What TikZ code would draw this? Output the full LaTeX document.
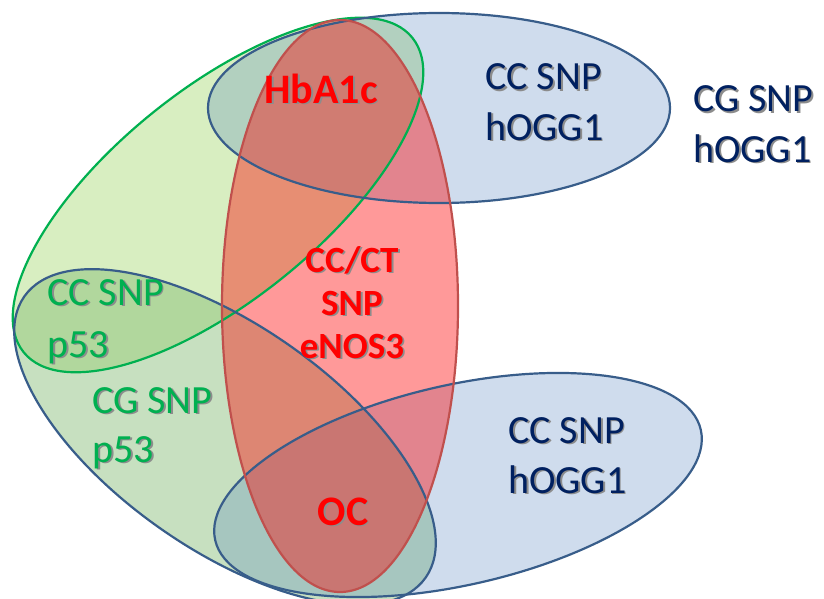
\documentclass[tikz,border=0pt]{standalone}
\usepackage{fontspec}
\setmainfont{Carlito}
\usetikzlibrary{shapes.geometric}
\definecolor{redline}{RGB}{192,80,77}
\definecolor{blueline}{RGB}{56,93,138}
\definecolor{greenline}{RGB}{0,176,80}
\definecolor{gfill}{RGB}{146,208,80}
\definecolor{bfill}{RGB}{79,129,189}
\definecolor{rfill}{RGB}{255,0,0}
\definecolor{navytext}{RGB}{0,32,96}
\definecolor{greentext}{RGB}{0,176,80}
\definecolor{redtext}{RGB}{255,0,0}
\definecolor{shadowgray}{RGB}{140,140,140}
\newcommand\shtext[1]{\rlap{\kern1.8pt\raisebox{-1.8pt}{\textcolor{shadowgray}{#1}}}#1}
\begin{document}
\begin{tikzpicture}[x=1pt,y=-1pt,
  set/.style={ellipse, inner sep=0pt, outer sep=0pt},
  redshape/.style={set, minimum width=236pt, minimum height=572pt},
  topblueshape/.style={set, minimum width=462pt, minimum height=190pt},
  greenshape/.style={set, minimum width=500pt, minimum height=210pt, rotate=39},
  bigblueshape/.style={set, minimum width=490pt, minimum height=224pt, rotate=-35},
  lowblueshape/.style={set, minimum width=498pt, minimum height=200pt, rotate=12.8},
  gfil/.style={fill=gfill, fill opacity=0.35},
  bfil/.style={fill=bfill, fill opacity=0.27},
  rfil/.style={fill=rfill, fill opacity=0.40},
  outl/.style={draw=#1, line width=2.2pt},
  lblw/.style={anchor=base west, inner sep=0pt, font=\fontsize{40}{48}\selectfont},
  boldlbl/.style={anchor=base, inner sep=0pt, font=\fontsize{42}{50}\selectfont\bfseries},
  enoslbl/.style={anchor=base, inner sep=0pt, font=\fontsize{37}{44}\selectfont\bfseries}
]
\useasboundingbox (0,0) rectangle (824,599);
\fill[white] (0,0) rectangle (824,599);

% fills
\node[greenshape, gfil] (green) at (218,195) {};
\node[bigblueshape, gfil] (bigblueg) at (225,437) {};
\node[bigblueshape, bfil, fill opacity=0.12] (bigblue) at (225,437) {};
\node[topblueshape, bfil] (topblue) at (439,108) {};
\node[lowblueshape, bfil] (lowblue) at (458,485) {};
\node[redshape, rfil] (red) at (340,306) {};

% outlines
\node[greenshape, outl=greenline] (greenO) at (green) {};
\node[bigblueshape, outl=blueline] (bigblueO) at (bigblue) {};
\node[topblueshape, outl=blueline] (topblueO) at (topblue) {};
\node[lowblueshape, outl=blueline] (lowblueO) at (lowblue) {};
\node[redshape, outl=redline] (redO) at (red) {};

% texts
\node[boldlbl, text=redtext] (hba) at (321,103) {\shtext{HbA1c}};
\node[enoslbl, text=redtext] (enosA) at (352,272) {\shtext{CC/CT}};
\node[enoslbl, text=redtext] (enosB) at (352,315) {\shtext{SNP}};
\node[enoslbl, text=redtext] (enosC) at (352,358) {\shtext{eNOS3}};
\node[boldlbl, text=redtext] (oc) at (343,525) {\shtext{OC}};
\node[lblw, text=navytext] (tA) at (485,90) {\shtext{CC SNP}};
\node[lblw, text=navytext] (tB) at (485,140) {\shtext{hOGG1}};
\node[lblw, text=navytext] (oA) at (693,112) {\shtext{CG SNP}};
\node[lblw, text=navytext] (oB) at (693,162) {\shtext{hOGG1}};
\node[lblw, text=navytext] (lA) at (508,443) {\shtext{CC SNP}};
\node[lblw, text=navytext] (lB) at (508,493) {\shtext{hOGG1}};
\node[lblw, text=greentext] (pA) at (47,305) {\shtext{CC SNP}};
\node[lblw, text=greentext] (pB) at (47,357) {\shtext{p53}};
\node[lblw, text=greentext] (qA) at (92,413) {\shtext{CG SNP}};
\node[lblw, text=greentext] (qB) at (92,462) {\shtext{p53}};
\end{tikzpicture}
\end{document}
